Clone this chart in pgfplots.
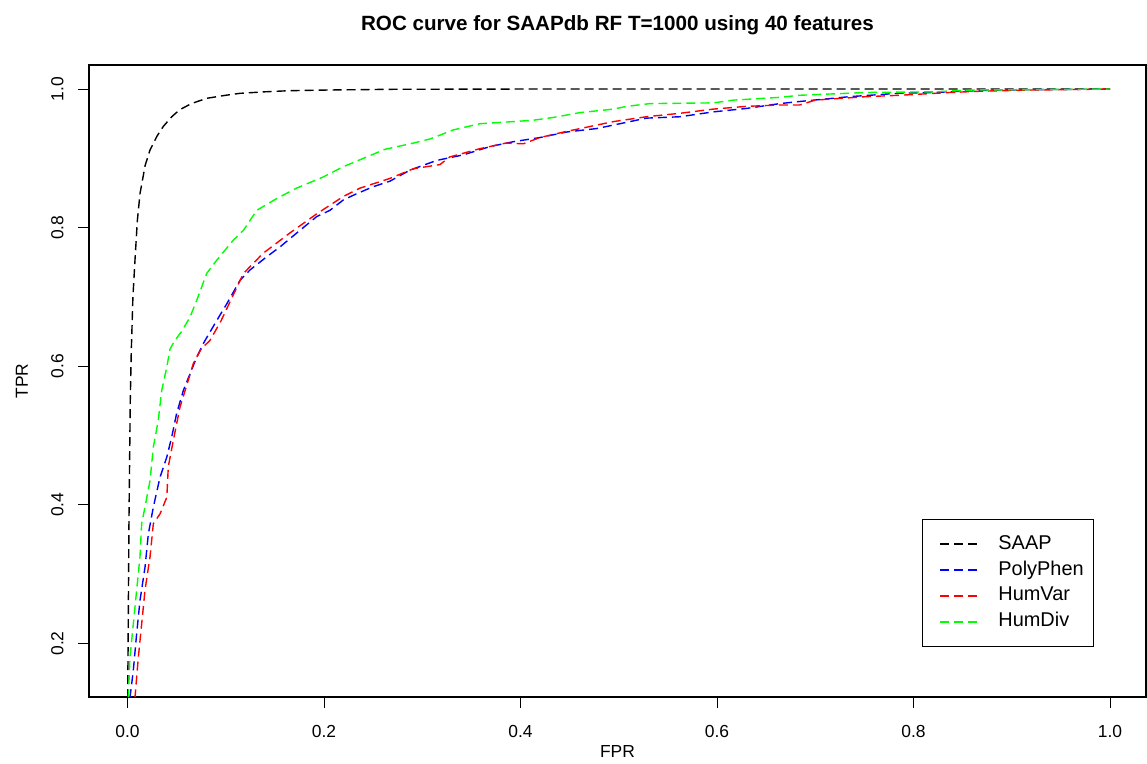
\documentclass[border=0pt]{standalone}
\usepackage{pgfplots}
\pgfplotsset{compat=1.18}
\usepackage{fontspec}
\setmainfont{Liberation Sans}
\newcommand\legseg[1]{%
  \path[draw=none] (0bp,0bp) -- (48bp,0bp);
  \draw[color=#1, solid, line width=2bp, line cap=butt] (8bp,0bp) -- (17bp,0bp) (22bp,0bp) -- (31bp,0bp) (36bp,0bp) -- (45bp,0bp);}
\begin{document}
\begin{tikzpicture}[x=1bp,y=1bp]
\useasboundingbox (0,0) rectangle (1147,764);
\begin{axis}[
  at={(89bp,67bp)}, anchor=south west,
  scale only axis, width=1057bp, height=632bp,
  xmin=-0.0392, xmax=1.0366, ymin=0.1228, ymax=1.0347,
  xtick={0,0.2,0.4,0.6,0.8,1.0},
  ytick={0.2,0.4,0.6,0.8,1.0},
  xticklabels={0.0,0.2,0.4,0.6,0.8,1.0},
  yticklabels={0.2,0.4,0.6,0.8,1.0},
  tick pos=left, tick align=outside, major tick length=11bp,
  tick style={black, line width=1bp},
  axis line style={black, line width=1.3bp},
  ticklabel style={font=\fontsize{17.5}{21}\selectfont},
  xticklabel style={anchor=north, yshift=-14bp},
  yticklabel style={rotate=90, anchor=south},
  yticklabel shift=11bp,
  xlabel={FPR}, ylabel={TPR},
  label style={font=\fontsize{17.5}{21}\selectfont},
  xlabel style={at={(rel axis cs:0.5,0)}, anchor=center, yshift=-55bp},
  ylabel style={at={(rel axis cs:-0.0634,0.5)}, anchor=center, rotate=0},
  title={ROC curve for SAAPdb RF T=1000 using 40 features},
  title style={at={(rel axis cs:0.5,1)}, anchor=center, yshift=34bp, font=\fontsize{20.7}{25}\selectfont\bfseries},
  clip=true,
  legend cell align=left,
  legend style={at={(rel axis cs:0.788,0.0796)}, anchor=south west,
    draw=black, line width=1bp, inner xsep=10bp, inner ysep=14.5bp,
    font=\fontsize{20}{24}\selectfont,
    nodes={inner sep=0pt, text height=15bp, text depth=5bp},
    row sep=5.8bp,
    /tikz/every odd column/.append style={column sep=18bp}},
]
\addplot[black, mark=none, line width=1.4bp, dash pattern=on 9bp off 5bp, legend image code/.code={\legseg{black}}] table {
0 0
0.0002 0.12
0.0015 0.38
0.0028 0.55
0.0038 0.62
0.0055 0.70
0.0076 0.753
0.010 0.81
0.0127 0.849
0.018 0.89
0.0229 0.912
0.030 0.932
0.0364 0.946
0.045 0.960
0.053 0.970
0.065 0.979
0.0806 0.9866
0.100 0.991
0.1145 0.9938
0.140 0.996
0.165 0.9976
0.200 0.9985
0.267 0.9996
0.400 1.0
1.0 1.0
};
\addlegendentry{SAAP}
\addplot[blue, mark=none, line width=1.4bp, dash pattern=on 9bp off 5bp, legend image code/.code={\legseg{blue}}] table {
0 0
0.0025 0.122
0.0059 0.161
0.0093 0.214
0.0127 0.262
0.0178 0.310
0.0212 0.358
0.0263 0.397
0.0331 0.440
0.040 0.469
0.045 0.498
0.050 0.532
0.0568 0.565
0.0636 0.589
0.0704 0.613
0.0772 0.633
0.0908 0.666
0.101 0.690
0.1145 0.724
0.1247 0.739
0.1417 0.758
0.155 0.772
0.172 0.792
0.1926 0.816
0.206 0.825
0.2197 0.840
0.2333 0.849
0.250 0.859
0.267 0.867
0.2875 0.883
0.3147 0.897
0.3418 0.905
0.369 0.917
0.3927 0.924
0.4198 0.930
0.447 0.938
0.4776 0.943
0.5013 0.950
0.528 0.958
0.5623 0.960
0.596 0.967
0.630 0.972
0.664 0.979
0.684 0.982
0.735 0.989
0.786 0.994
0.820 0.995
0.854 0.997
0.888 0.9986
1.0 1.0
};
\addlegendentry{PolyPhen}
\addplot[red, mark=none, line width=1.4bp, dash pattern=on 9bp off 5bp, legend image code/.code={\legseg{red}}] table {
0 0
0.0076 0.122
0.011 0.180
0.0144 0.228
0.0178 0.277
0.0229 0.325
0.0263 0.373
0.0331 0.387
0.040 0.411
0.0415 0.455
0.0466 0.493
0.0534 0.541
0.0619 0.580
0.067 0.604
0.075 0.625
0.084 0.6375
0.095 0.665
0.105 0.695
0.118 0.734
0.138 0.763
0.165 0.792
0.1926 0.820
0.2197 0.845
0.2366 0.857
0.267 0.871
0.291 0.885
0.318 0.891
0.328 0.902
0.3588 0.914
0.385 0.922
0.403 0.921
0.4198 0.930
0.444 0.938
0.4945 0.953
0.528 0.960
0.5623 0.965
0.596 0.971
0.630 0.975
0.664 0.977
0.684 0.977
0.700 0.984
0.752 0.989
0.786 0.991
0.837 0.995
0.871 0.997
0.922 0.9986
1.0 1.0
};
\addlegendentry{HumVar}
\addplot[green, mark=none, line width=1.4bp, dash pattern=on 9bp off 5bp, legend image code/.code={\legseg{green}}] table {
0 0
0.0008 0.122
0.0025 0.180
0.0059 0.228
0.0093 0.277
0.0127 0.325
0.0144 0.373
0.0178 0.397
0.0229 0.435
0.0263 0.4835
0.0313 0.522
0.0348 0.565
0.040 0.599
0.0433 0.625
0.0483 0.6375
0.055 0.650
0.0636 0.671
0.0704 0.695
0.0806 0.734
0.0908 0.753
0.1077 0.782
0.1179 0.796
0.1315 0.825
0.1519 0.842
0.172 0.857
0.199 0.873
0.2197 0.888
0.2435 0.902
0.262 0.913
0.291 0.922
0.308 0.928
0.3316 0.941
0.3588 0.950
0.3927 0.953
0.413 0.955
0.4334 0.959
0.4606 0.966
0.4945 0.971
0.508 0.975
0.532 0.979
0.596 0.980
0.6166 0.984
0.664 0.988
0.684 0.991
0.752 0.995
0.820 0.996
0.861 0.9986
1.0 1.0
};
\addlegendentry{HumDiv}
\end{axis}
\end{tikzpicture}
\end{document}
